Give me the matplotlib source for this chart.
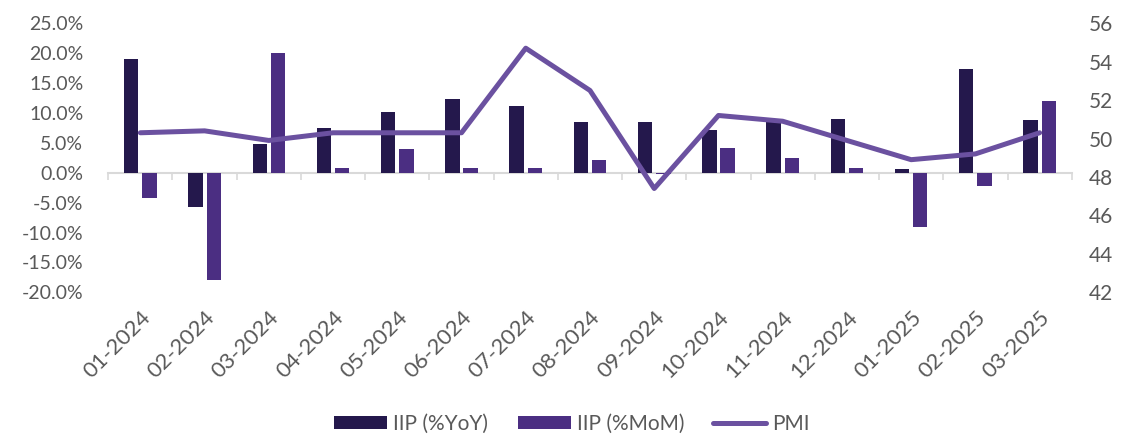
import matplotlib.pyplot as plt
import numpy as np

# monthly industrial production and PMI
months = ["01-2024", "02-2024", "03-2024", "04-2024", "05-2024", "06-2024",
          "07-2024", "08-2024", "09-2024", "10-2024", "11-2024", "12-2024",
          "01-2025", "02-2025", "03-2025"]
iip_yoy = [19.0, -5.8, 4.8, 7.5, 10.1, 12.4, 11.2, 8.5, 8.4, 7.1, 8.9, 8.9, 0.7, 17.3, 8.8]
iip_mom = [-4.3, -18.0, 20.1, 0.8, 3.9, 0.8, 0.8, 2.1, -0.2, 4.1, 2.4, 0.8, -9.1, -2.2, 12.0]
pmi = [50.3, 50.4, 49.9, 50.3, 50.3, 50.3, 54.7, 52.5, 47.4, 51.2, 50.9, 49.9, 48.9, 49.2, 50.3]

pct_ticks = np.arange(-20, 26, 5)
pmi_ticks = np.arange(42, 57, 2)

c_yoy = "#24184c"
c_mom = "#4b2e82"
c_pmi = "#6b51a0"
grey = "#595959"

plt.rcParams["font.family"] = ["Lato", "DejaVu Sans"]
plt.rcParams["font.size"] = 15

fig = plt.figure(figsize=(11.24, 4.37), dpi=100)
ax = fig.add_axes([0.0963, 0.3311, 0.8572, 0.6158])

x = np.arange(len(months))
w = 0.224
off = 0.142
b1 = ax.bar(x - off, iip_yoy, w, color=c_yoy, label="IIP (%YoY)", zorder=2)
b2 = ax.bar(x + off, iip_mom, w, color=c_mom, label="IIP (%MoM)", zorder=2)

ax.set_xlim(-0.5, len(months) - 0.5)
ax.set_ylim(-20, 25)
ax.set_yticks(pct_ticks)
ax.set_yticklabels([f"{v:.1f}%" for v in pct_ticks])
ax.set_xticks(x)
ax.set_xticklabels(months, rotation=45, ha="right", rotation_mode="anchor")
ax.tick_params(axis="x", length=0, pad=11, colors=grey, labelsize=16)
ax.tick_params(axis="y", length=0, pad=18, colors=grey, labelsize=14)
for s in ax.spines.values():
    s.set_visible(False)

# category axis drawn at the zero line
zero = ax.secondary_xaxis(20 / 45)
zero.set_xticks(np.arange(-0.5, len(months), 1))
zero.tick_params(axis="x", direction="out", length=5, width=1.2,
                 color="#d9d9d9", labelbottom=False)
zero.spines["bottom"].set_color("#d9d9d9")
zero.spines["bottom"].set_linewidth(1.5)

ax2 = ax.twinx()
ln, = ax2.plot(x, pmi, color=c_pmi, lw=3.6, solid_joinstyle="round",
               solid_capstyle="round", label="PMI", zorder=3)
ax2.set_ylim(42, 56)
ax2.set_yticks(pmi_ticks)
ax2.tick_params(axis="y", length=0, pad=12, colors=grey)
for s in ax2.spines.values():
    s.set_visible(False)

fig.legend(handles=[b1, b2, ln], loc="center", bbox_to_anchor=(0.509, 0.03),
           ncol=3, frameon=False, handlelength=2.55, handleheight=0.62,
           handletextpad=0.29, columnspacing=1.4, labelcolor=grey)

fig.savefig("out.png", dpi=100)
